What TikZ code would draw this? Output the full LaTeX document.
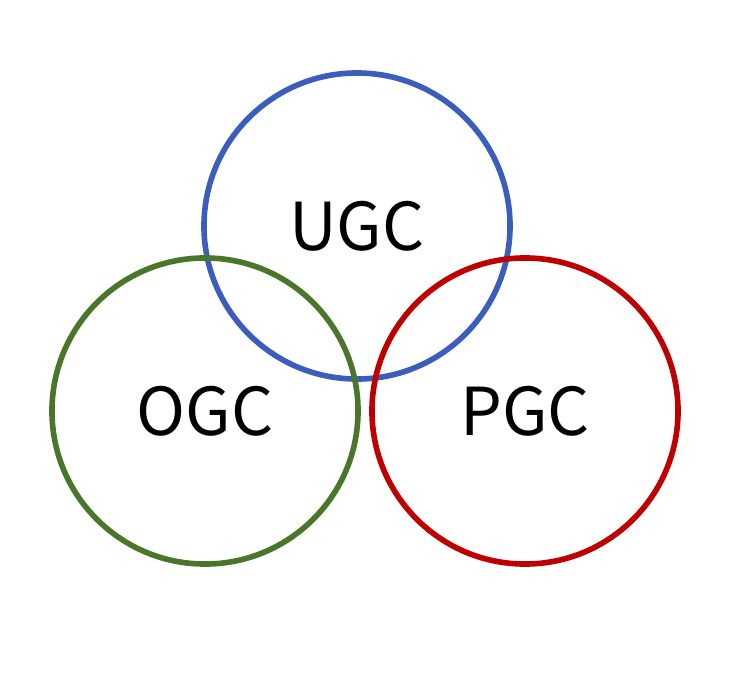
\documentclass[tikz,border=0pt]{standalone}
\usepackage{fontspec}
\setmainfont{Noto Sans CJK SC}
\usepackage{tikz}
\definecolor{ugcblue}{HTML}{3A5DBE}
\definecolor{ogcgreen}{HTML}{4A7629}
\definecolor{pgcred}{HTML}{BE0000}
\tikzset{ring/.style={circle,draw=#1,line width=0.14cm,minimum size=7.65cm,inner sep=0pt,font=\fontsize{47}{52}\selectfont}}

\begin{document}
\begin{tikzpicture}[x=0.025cm,y=-0.025cm]
  \useasboundingbox (0,0) rectangle (736,676);
  \node[ring=ugcblue] (ugc) at (357,226) {UGC};
  \node[ring=ogcgreen] (ogc) at (205,411) {OGC};
  \node[ring=pgcred] (pgc) at (525,411) {PGC};
\end{tikzpicture}
\end{document}
